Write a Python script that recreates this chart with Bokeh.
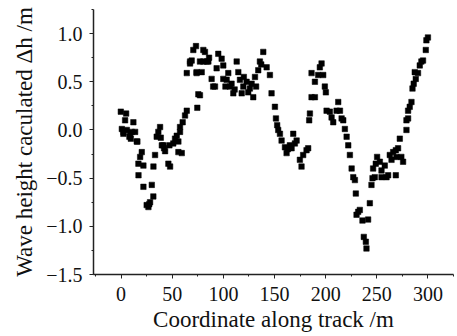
from bokeh.plotting import figure
from bokeh.embed import file_html
from bokeh.resources import INLINE
from bokeh.models import SingleIntervalTicker, CustomJSTickFormatter, ColumnDataSource, Range1d

x_along = [
    -0.3, 4.9, 3.9, 12.0, 0.7, 5.6, 10.4, 13.7, 2.2, 8.1, 9.5, 15.9, 2.3, 8.8, 15.3,
    20.2, 18.6, 16.9, 21.8, 17.0, 21.8, 30.0, 31.5, 28.3, 26.7, 25.0, 27.5,
    33.2, 31.6, 34.8, 36.4, 38.1, 38.8, 39.8, 42.0, 43.0, 41.3,
    46.2, 47.9, 47.2, 51.0, 52.7, 54.4, 56.0, 57.6, 56.0, 59.3, 57.6, 60.2, 62.5, 64.2,
    64.2, 67.4, 69.0, 70.6, 73.2, 73.8, 75.5, 74.5, 67.4, 77.1, 83.7, 73.8, 93.4, 88.5,
    91.8, 77.1, 80.4, 82.0, 80.4, 85.3, 78.8, 90.0, 95.0, 98.3, 99.9, 103.2, 106.4, 109.7,
    113.0, 114.6, 116.2, 117.9, 119.5, 124.3, 129.2, 127.6, 130.9, 134.1, 135.7, 139.0,
    142.3, 145.5, 99.9, 104.8, 108.0, 122.7, 125.9, 86.0, 102.0, 111.0, 120.0, 132.0, 137.0,
    147.1, 150.4, 151.4, 152.6, 153.6, 155.3, 156.9, 160.2, 161.8, 165.0, 163.0, 168.3,
    169.9, 166.7, 171.6, 174.8, 176.4, 178.0, 181.3, 182.9,
    183.9, 184.6, 186.2, 189.5, 186.2, 189.5, 192.7, 194.3, 196.0, 197.6, 199.2, 200.2,
    200.9, 204.1, 205.8, 207.4, 210.7, 212.3, 214.0, 215.6, 217.2, 218.8, 220.5, 222.1,
    223.7, 225.4, 227.0, 228.6, 229.5, 231.8, 233.4, 230.2, 236.0, 237.3, 239.3, 239.9,
    241.5, 243.2, 244.8, 245.8, 248.0, 246.4, 249.0, 250.3, 253.0, 254.6, 257.8, 254.6,
    259.5, 261.1, 262.7, 264.4, 266.0, 268.6, 270.8, 272.5, 268.6, 274.0, 275.7, 269.2,
    279.0, 279.0, 280.6, 280.6, 282.2, 283.9, 284.9, 286.1, 288.1, 287.1, 290.3, 292.0,
    293.6, 295.2, 297.9, 298.5, 300.0,
]
wave_dh = [
    0.19, 0.17, 0.10, 0.08, 0.01, 0.00, -0.02, -0.02, -0.04, -0.07, -0.09, -0.12, -0.02, -0.04, -0.12,
    -0.23, -0.28, -0.35, -0.37, -0.47, -0.59, -0.57, -0.69, -0.75, -0.80, -0.78, -0.77,
    -0.26, -0.38, -0.07, -0.02, 0.03, -0.08, -0.16, -0.19, -0.22, -0.16,
    -0.35, -0.38, -0.16, -0.14, -0.09, -0.06, -0.12, -0.02, -0.23, -0.24, 0.03, 0.08, 0.15, 0.20,
    0.59, 0.69, 0.72, 0.83, 0.87, 0.59, 0.37, 0.23, 0.71, 0.71, 0.71, 0.60, 0.64, 0.53,
    0.45, 0.36, 0.83, 0.81, 0.71, 0.71, 0.60, 0.45, 0.79, 0.74, 0.67, 0.52, 0.45, 0.38,
    0.71, 0.60, 0.52, 0.38, 0.45, 0.39, 0.34, 0.48, 0.55, 0.62, 0.71, 0.81,
    0.65, 0.57, 0.53, 0.59, 0.48, 0.50, 0.43, 0.75, 0.45, 0.42, 0.55, 0.45, 0.68,
    0.38, 0.24, 0.12, 0.05, 0.00, -0.04, -0.11, -0.18, -0.24, -0.16, -0.20, -0.04,
    -0.14, -0.19, -0.11, -0.31, -0.38, -0.26, -0.21, -0.19,
    0.10, 0.17, 0.34, 0.34, 0.59, 0.50, 0.57, 0.65, 0.69, 0.57, 0.45, 0.39,
    0.20, 0.19, 0.13, 0.08, 0.20, 0.29, 0.20, 0.12, 0.10, 0.01, -0.07, -0.16,
    -0.26, -0.40, -0.49, -0.52, -0.66, -0.85, -0.83, -0.88, -0.94, -1.11, -1.16, -1.23,
    -0.93, -0.76, -0.57, -0.50, -0.49, -0.40, -0.35, -0.28, -0.33, -0.42, -0.37, -0.49,
    -0.49, -0.47, -0.26, -0.31, -0.23, -0.21, -0.19, -0.09, -0.47, -0.28, -0.33, -0.28,
    0.00, 0.10, 0.12, 0.20, 0.24, 0.29, 0.43, 0.48, 0.53, 0.60, 0.59, 0.67,
    0.71, 0.72, 0.83, 0.93, 0.96,
]

x_label = "Coordinate along track /m"
y_label = "Wave height caculated \u0394h /m"

FONT = "Liberation Serif"

p = figure(width=457, height=336, output_backend="svg", toolbar_location=None,
           x_range=Range1d(-27, 325), y_range=Range1d(-1.5, 1.25),
           min_border_left=93, min_border_right=4, min_border_top=9, min_border_bottom=62)
p.outline_line_color = None
p.xgrid.visible = False
p.ygrid.visible = False
p.background_fill_color = "white"

src = ColumnDataSource(dict(x=x_along, y=wave_dh))
p.scatter("x", "y", source=src, marker="square", size=5.5, fill_color="black",
          line_color="black", line_width=0.5)

for ax in (p.xaxis[0], p.yaxis[0]):
    ax.axis_line_color = "#222222"
    ax.axis_line_width = 1.5
    ax.major_tick_line_color = "#222222"
    ax.minor_tick_line_color = "#222222"
    ax.major_tick_in = 0
    ax.major_tick_out = 4
    ax.minor_tick_in = 0
    ax.minor_tick_out = 2
    ax.major_label_text_font = FONT
    ax.major_label_text_font_size = "20px"
    ax.major_label_text_color = "#111111"
    ax.axis_label_text_font = FONT
    ax.axis_label_text_font_size = "23px"
    ax.axis_label_text_font_style = "normal"
    ax.axis_label_text_color = "#111111"

p.xaxis.ticker = SingleIntervalTicker(interval=50, num_minor_ticks=2)
p.yaxis.ticker = SingleIntervalTicker(interval=0.5, num_minor_ticks=2)
p.yaxis.formatter = CustomJSTickFormatter(code="return tick.toFixed(1).replace('-', '\\u2212');")
p.xaxis.axis_label = x_label
p.yaxis.axis_label = y_label
p.xaxis.major_label_standoff = 8
p.yaxis.major_label_standoff = 7
p.xaxis.axis_label_standoff = 3
p.yaxis.axis_label_standoff = 6

open("out.html", "w").write(file_html(p, INLINE))
